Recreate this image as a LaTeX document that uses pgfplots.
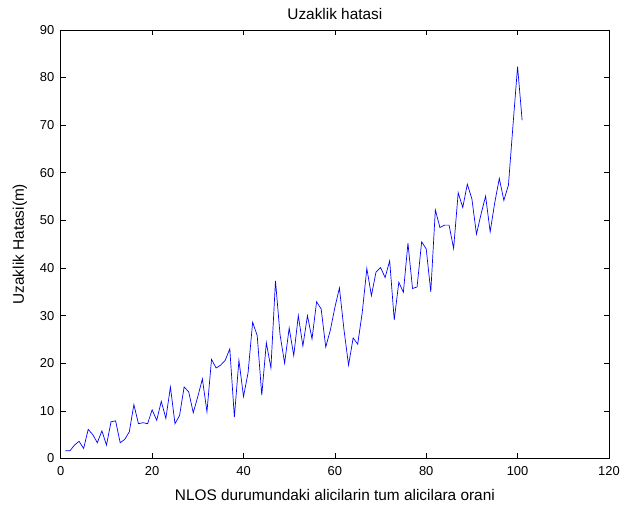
\documentclass[border=0pt]{standalone}
\usepackage{pgfplots}
\pgfplotsset{compat=1.18}
\usepackage{fontspec}
\setmainfont{Liberation Sans}

\pgfplotstableread{
x y
1 1.6
2 1.6
3 2.8
4 3.6
5 2.1
6 6.1
7 5.0
8 3.3
9 5.8
10 2.8
11 7.7
12 7.9
13 3.3
14 4.0
15 5.6
16 11.3
17 7.3
18 7.5
19 7.3
20 10.2
21 8.0
22 12.0
23 8.4
24 15.0
25 7.3
26 9.0
27 15.0
28 14.0
29 9.6
30 13.0
31 16.7
32 9.8
33 20.8
34 19.0
35 19.6
36 20.6
37 23.0
38 8.7
39 20.6
40 13.0
41 18.0
42 28.6
43 25.8
44 13.3
45 24.3
46 19.0
47 37.3
48 26.0
49 20.0
50 27.4
51 21.6
52 30.0
53 23.6
54 30.0
55 25.1
56 32.9
57 31.4
58 23.4
59 26.9
60 31.7
61 35.8
62 27.0
63 19.6
64 25.3
65 24.0
66 30.7
67 39.9
68 34.2
69 39.1
70 40.1
71 38.0
72 41.5
73 29.1
74 37.0
75 34.9
76 45.2
77 35.7
78 36.0
79 45.5
80 44.0
81 35.0
82 52.2
83 48.5
84 49.0
85 49.0
86 44.1
87 55.8
88 52.7
89 57.6
90 54.5
91 47.1
92 51.3
93 55.1
94 47.6
95 53.7
96 58.8
97 54.2
98 57.4
99 70.0
100 82.3
101 71.0
}\errdata

\begin{document}
\begin{tikzpicture}
\begin{axis}[
  name=main, at={(0,0)}, anchor=south west,
  scale only axis, width=550bp, height=430bp,
  xmin=0, xmax=120, ymin=0, ymax=90,
  xtick={0,20,...,120}, ytick={0,10,...,90},
  tick pos=both, tick align=inside,
  major tick length=5bp,
  axis line style={black, line width=0.6pt},
  every tick/.style={black, line width=0.6pt},
  /pgf/number format/assume math mode=true,
  tick label style={font=\fontsize{13}{15}\selectfont},
  xticklabel style={yshift=-5bp},
  yticklabel style={xshift=-3bp},
  label style={font=\fontsize{15.5}{17}\selectfont},
  title style={font=\fontsize{15.5}{17}\selectfont, yshift=1bp},
  title={Uzaklik hatasi},
  xlabel={NLOS durumundaki alicilarin tum alicilara orani},
  ylabel={Uzaklik Hatasi(m)},
  xlabel style={yshift=-6bp},
  ylabel style={yshift=6bp},
]
\addplot[color={rgb,255:red,0;green,0;blue,255}, line width=0.7pt, mark=none] table {\errdata};
\end{axis}
\path (-61bp,-49bp) rectangle (562bp,460bp);
\end{tikzpicture}
\end{document}
